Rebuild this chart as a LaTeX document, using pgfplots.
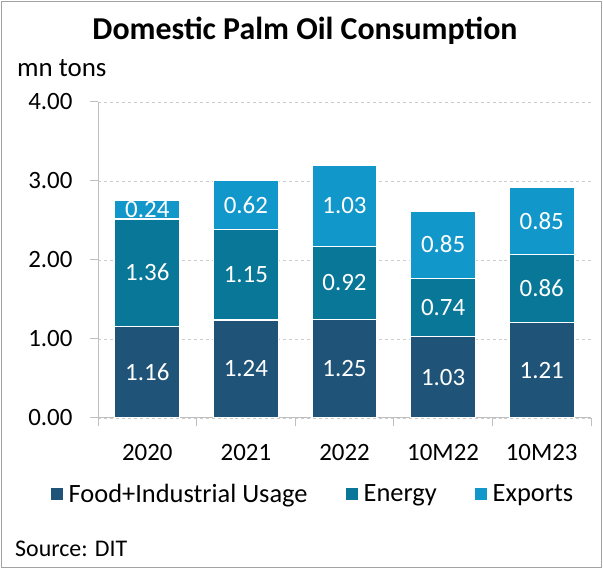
\documentclass[border=0pt]{standalone}
\usepackage{pgfplots}
\pgfplotsset{compat=1.18}
\usepackage{fontspec}
\setmainfont{Carlito}
\definecolor{cFood}{RGB}{31,84,120}
\definecolor{cEnergy}{RGB}{8,119,152}
\definecolor{cExp}{RGB}{18,151,203}
\definecolor{cAxis}{RGB}{191,191,191}
\pgfplotsset{
  mylegend/.style={legend image code/.code={\draw[##1,draw=none] (0bp,-6bp) rectangle (12bp,6bp);}},
}
\begin{document}
\begin{tikzpicture}[x=1bp,y=1bp]
\useasboundingbox (0,0) rectangle (603,569);
\draw[color=cAxis!85!black, line width=1.2bp] (1.5,1.5) rectangle (601.5,567.5);
\node[font=\fontsize{32}{36}\selectfont\bfseries] at (305,538) {Domestic Palm Oil Consumption};
\node[anchor=west, font=\fontsize{27}{30}\selectfont, inner sep=0pt] at (17,501) {mn tons};
\node[anchor=west, font=\fontsize{24}{28}\selectfont, inner sep=0pt] at (15,20) {Source: DIT};
\begin{axis}[
  at={(98bp,151bp)}, anchor=south west,
  scale only axis, width=493bp, height=316bp,
  ybar stacked, bar width=65bp,
  xmin=-0.5, xmax=4.5, ymin=0, ymax=4,
  separate axis lines,
  axis x line*=bottom, axis y line*=left,
  axis line style={-, cAxis, line width=1bp},
  tick align=outside,
  major tick length=8bp, minor tick length=8bp,
  tick style={cAxis, line width=1bp},
  xtick={0,1,2,3,4},
  xticklabels={2020,2021,2022,10M22,10M23},
  minor xtick={-0.5,0.5,1.5,2.5,3.5,4.5},
  major x tick style={draw=none},
  ytick={0,1,2,3,4},
  ymajorgrids,
  major grid style={dashed, cAxis!80, line width=0.8bp},
  tick label style={font=\fontsize{25}{30}\selectfont, text=black},
  yticklabel style={xshift=-14bp},
  xticklabel style={yshift=-15bp},
  /pgf/number format/.cd, fixed, fixed zerofill, precision=2, assume math mode=true,
  /pgfplots/.cd,
  legend columns=3,
  legend style={at={(0.436,-0.24)}, anchor=center, draw=none, fill=none,
    font=\fontsize{26.5}{30}\selectfont,
    /tikz/every odd column/.append style={column sep=4bp},
    /tikz/every even column/.append style={column sep=36bp}},
]
\addplot[fill=cFood, draw=white, line width=1.2bp, mylegend] coordinates {(0,1.16) (1,1.24) (2,1.25) (3,1.03) (4,1.21)};
\addplot[fill=cEnergy, draw=white, line width=1.2bp, mylegend] coordinates {(0,1.36) (1,1.15) (2,0.92) (3,0.74) (4,0.86)};
\addplot[fill=cExp, draw=white, line width=1.2bp, mylegend] coordinates {(0,0.24) (1,0.62) (2,1.03) (3,0.85) (4,0.85)};
\legend{Food+Industrial Usage, Energy, Exports}
\end{axis}
\begin{axis}[
  at={(98bp,151bp)}, anchor=south west,
  scale only axis, width=493bp, height=316bp,
  xmin=-0.5, xmax=4.5, ymin=0, ymax=4,
  hide axis,
  nodes near coords, point meta=explicit symbolic,
  every node near coord/.append style={anchor=center, text=white, font=\fontsize{25}{30}\selectfont},
]
\addplot[draw=none, mark=none] coordinates {(0,0.58)[1.16] (1,0.62)[1.24] (2,0.625)[1.25] (3,0.515)[1.03] (4,0.605)[1.21]};
\addplot[draw=none, mark=none] coordinates {(0,1.84)[1.36] (1,1.815)[1.15] (2,1.71)[0.92] (3,1.40)[0.74] (4,1.64)[0.86]};
\addplot[draw=none, mark=none] coordinates {(0,2.64)[0.24] (1,2.70)[0.62] (2,2.685)[1.03] (3,2.195)[0.85] (4,2.495)[0.85]};
\end{axis}
\end{tikzpicture}
\end{document}
